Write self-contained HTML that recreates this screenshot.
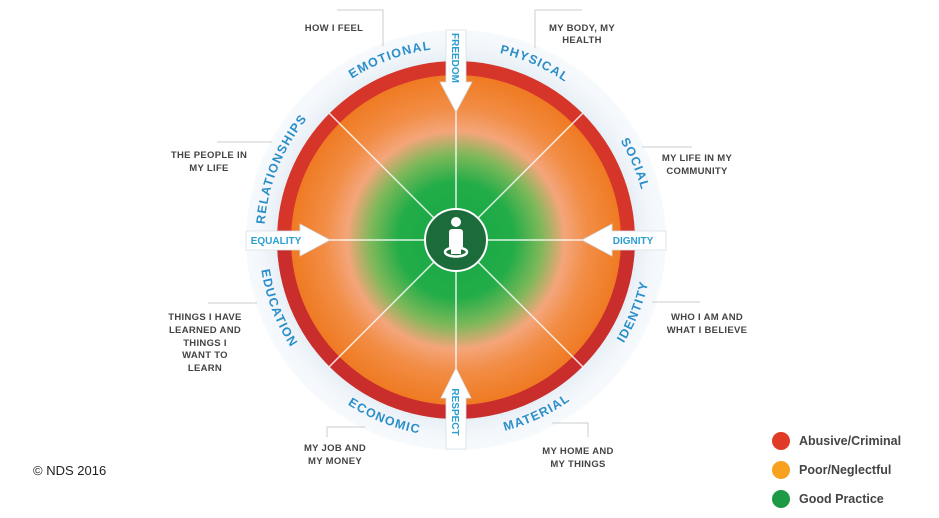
<!DOCTYPE html>
<html><head><meta charset="utf-8"><style>
html,body{margin:0;padding:0;background:#fff;}
svg{display:block;}
.o{font-family:"Liberation Sans",sans-serif;font-weight:bold;font-size:9.5px;fill:#444;text-anchor:middle;letter-spacing:0.3px}
.c{font-family:"Liberation Sans",sans-serif;font-weight:bold;font-size:12.5px;fill:#2a8ec8;letter-spacing:1.2px}
.a{font-family:"Liberation Sans",sans-serif;font-weight:bold;font-size:10px;fill:#2a9fd0;text-anchor:middle}
.ln{stroke:#ccc;stroke-width:1;fill:none}
</style></head><body>
<svg width="939" height="518" viewBox="0 0 939 518" xmlns="http://www.w3.org/2000/svg">
<defs>
<radialGradient id="g" cx="456" cy="240" r="165" gradientUnits="userSpaceOnUse">
<stop offset="0" stop-color="#17a544"/>
<stop offset="0.35" stop-color="#22ad48"/>
<stop offset="0.52" stop-color="#7fb85a"/>
<stop offset="0.66" stop-color="#f4a57a"/>
<stop offset="0.8" stop-color="#f28d45"/>
<stop offset="1" stop-color="#ef7a22"/>
</radialGradient>
<radialGradient id="w" cx="456" cy="240" r="210" gradientUnits="userSpaceOnUse">
<stop offset="0.8" stop-color="#dfe9f2"/>
<stop offset="0.93" stop-color="#f3f7fb"/>
<stop offset="1" stop-color="#f7fafd"/>
</radialGradient>
<path id="pt" d="M 264 240 A 192 192 0 0 1 648 240"/>
<path id="pb" d="M 259 240 A 197 197 0 0 0 653 240"/>
</defs>
<circle cx="456" cy="240" r="210" fill="url(#w)"/>
<circle cx="456" cy="240" r="179" fill="#d6352a"/>
<path d="M 277 240 A 179 179 0 0 0 635 240 Z" fill="#c02a2e" opacity="0.6"/>
<circle cx="456" cy="240" r="165" fill="url(#g)"/>
<g stroke="#fff" stroke-width="1.5" opacity="0.85">
<line x1="456" y1="61" x2="456" y2="419"/>
<line x1="277" y1="240" x2="635" y2="240"/>
<line x1="329" y1="113" x2="583" y2="367"/>
<line x1="583" y1="113" x2="329" y2="367"/>
</g>
<!-- curved labels -->
<g transform="rotate(-20 456 240)"><text class="c"><textPath href="#pt" startOffset="50%" text-anchor="middle">EMOTIONAL</textPath></text></g>
<g transform="rotate(24 456 240)"><text class="c"><textPath href="#pt" startOffset="50%" text-anchor="middle">PHYSICAL</textPath></text></g>
<g transform="rotate(67 456 240)"><text class="c"><textPath href="#pt" startOffset="50%" text-anchor="middle">SOCIAL</textPath></text></g>
<g transform="rotate(-68 456 240)"><text class="c"><textPath href="#pt" startOffset="50%" text-anchor="middle">RELATIONSHIPS</textPath></text></g>
<g transform="rotate(69 456 240)"><text class="c"><textPath href="#pb" startOffset="50%" text-anchor="middle">EDUCATION</textPath></text></g>
<g transform="rotate(22 456 240)"><text class="c"><textPath href="#pb" startOffset="50%" text-anchor="middle">ECONOMIC</textPath></text></g>
<g transform="rotate(-25 456 240)"><text class="c"><textPath href="#pb" startOffset="50%" text-anchor="middle">MATERIAL</textPath></text></g>
<g transform="rotate(-68 456 240)"><text class="c"><textPath href="#pb" startOffset="50%" text-anchor="middle">IDENTITY</textPath></text></g>
<!-- arrows -->
<g fill="#fff" stroke="#d8dfe6" stroke-width="0.8">
<path d="M446 30 H466 V82 H472 L456 112 L440 82 H446 Z"/>
<path d="M446 449 H466 V398 H471 L456 368 L441 398 H446 Z"/>
<path d="M246 231 H300 V224 L330 240 L300 256 V250 H246 Z"/>
<path d="M666 231 H612 V224 L582 240 L612 256 V250 H666 Z"/>
</g>
<text class="a" transform="translate(452 58) rotate(90)">FREEDOM</text>
<text class="a" transform="translate(452 412) rotate(90)">RESPECT</text>
<text class="a" x="276" y="244">EQUALITY</text>
<text class="a" x="633" y="244">DIGNITY</text>
<!-- center icon -->
<circle cx="456" cy="240" r="31" fill="#1c6b3a" stroke="#fff" stroke-width="2"/>
<circle cx="456" cy="222" r="5" fill="#fff"/>
<rect x="449" y="229" width="14" height="20" rx="3" fill="#fff"/>
<ellipse cx="456" cy="252" rx="11" ry="4.5" fill="none" stroke="#fff" stroke-width="2.5"/>
<rect x="451" y="246" width="10" height="8" fill="#fff"/>
<!-- outer labels -->
<path class="ln" d="M337 10 H383 V46"/>
<text class="o" x="334" y="31">HOW I FEEL</text>
<path class="ln" d="M582 10 H535 V48"/>
<text class="o" x="582" y="31">MY BODY, MY</text><text class="o" x="582" y="43">HEALTH</text>
<path class="ln" d="M217 142 H272"/>
<text class="o" x="209" y="158">THE PEOPLE IN</text><text class="o" x="209" y="171">MY LIFE</text>
<path class="ln" d="M208 303 H257"/>
<text class="o" x="205" y="320">THINGS I HAVE</text><text class="o" x="205" y="333">LEARNED AND</text><text class="o" x="205" y="346">THINGS I</text><text class="o" x="205" y="358">WANT TO</text><text class="o" x="205" y="371">LEARN</text>
<path class="ln" d="M642 147 H692"/>
<text class="o" x="697" y="161">MY LIFE IN MY</text><text class="o" x="697" y="174">COMMUNITY</text>
<path class="ln" d="M652 302 H700"/>
<text class="o" x="707" y="320">WHO I AM AND</text><text class="o" x="707" y="333">WHAT I BELIEVE</text>
<path class="ln" d="M327 437 V427 H365"/>
<text class="o" x="335" y="451">MY JOB AND</text><text class="o" x="335" y="464">MY MONEY</text>
<path class="ln" d="M552 423 H588 V437"/>
<text class="o" x="578" y="454">MY HOME AND</text><text class="o" x="578" y="467">MY THINGS</text>
<!-- legend -->
<circle cx="781" cy="441" r="9" fill="#e03b26"/>
<circle cx="781" cy="470" r="9" fill="#f7a11e"/>
<circle cx="781" cy="499" r="9" fill="#1e9a45"/>
<g font-family="Liberation Sans,sans-serif" font-weight="bold" font-size="12.5" fill="#444">
<text x="799" y="445">Abusive/Criminal</text>
<text x="799" y="474">Poor/Neglectful</text>
<text x="799" y="503">Good Practice</text>
</g>
<text x="33" y="475" font-family="Liberation Sans,sans-serif" font-size="13" fill="#222">© NDS 2016</text>
</svg>
</body></html>
